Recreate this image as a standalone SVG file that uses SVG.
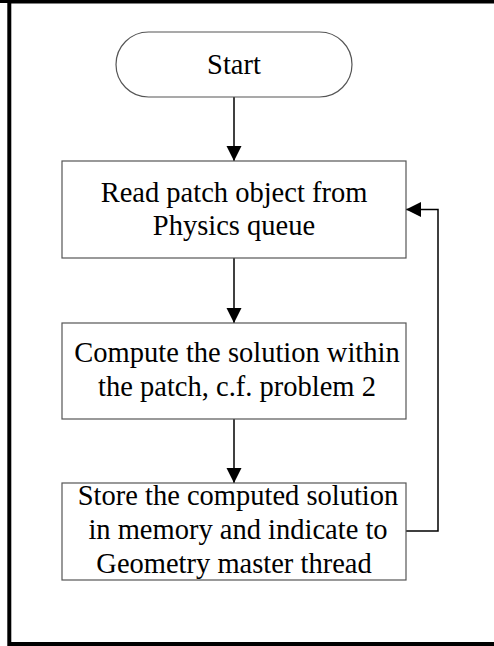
<svg xmlns="http://www.w3.org/2000/svg" width="494" height="646" viewBox="0 0 494 646">
  <style>
    .frame { fill: none; stroke: #000; }
    .box { fill: #fff; stroke: #555; stroke-width: 1.2; }
    .edge { fill: none; stroke: #000; stroke-width: 1.5; }
    text { font-family: "Liberation Serif", "Times New Roman", serif; font-size: 28.5px; fill: #000; text-anchor: middle; }
  </style>
  <defs>
    <marker id="arrow" markerUnits="userSpaceOnUse" markerWidth="16" markerHeight="16" viewBox="0 0 16 16" refX="15" refY="8" orient="auto">
      <path d="M0,0.5 L15,8 L0,15.5 Z" fill="#000"/>
    </marker>
  </defs>
  <rect width="494" height="646" fill="#fff"/>
  <!-- page frame: left, top and bottom rules -->
  <path class="frame" d="M494,1.5 L9.3,1.5 L9.3,644 L494,644" stroke-width="4"/>
  <path class="frame" d="M0,1.5 L494,1.5" stroke-width="3"/>

  <g id="connectors">
    <path class="edge" d="M234,97 L234,161" marker-end="url(#arrow)"/>
    <path class="edge" d="M234,258 L234,323" marker-end="url(#arrow)"/>
    <path class="edge" d="M234,419 L234,483" marker-end="url(#arrow)"/>
    <path class="edge" d="M406,531 L438,531 L438,209.5 L406,209.5" marker-end="url(#arrow)"/>
  </g>

  <g id="start">
    <rect class="box" x="116" y="32" width="236" height="65" rx="32.5" ry="32.5"/>
    <text x="234" y="73.5">Start</text>
  </g>

  <g id="read-patch">
    <rect class="box" x="62" y="161" width="344" height="97"/>
    <text x="234" y="201.5">Read patch object from</text>
    <text x="234" y="234.5">Physics queue</text>
  </g>

  <g id="compute">
    <rect class="box" x="62" y="323" width="344" height="96"/>
    <text x="237" y="361.5">Compute the solution within</text>
    <text x="237" y="396">the patch, c.f. problem 2</text>
  </g>

  <g id="store">
    <rect class="box" x="62" y="483" width="344" height="97"/>
    <text x="238" y="505">Store the computed solution</text>
    <text x="238" y="539">in memory and indicate to</text>
    <text x="234" y="573">Geometry master thread</text>
  </g>
</svg>
